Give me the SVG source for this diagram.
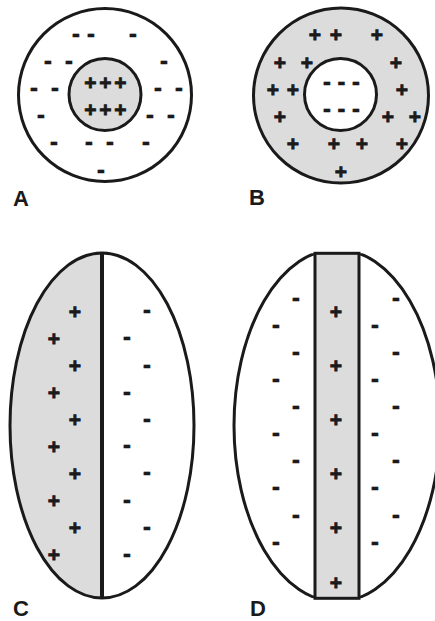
<svg xmlns="http://www.w3.org/2000/svg" width="435" height="621" viewBox="0 0 435 621">
<style>
.o{stroke:#1a1a1a;stroke-width:3;fill:none}
.g{fill:#dcdcdc}
.w{fill:#ffffff}
.p,.m{font-family:"Liberation Sans",Arial,sans-serif;font-weight:bold;fill:#1a1a1a;text-anchor:middle}
.p{font-size:21px;stroke:#1a1a1a;stroke-width:0.8}
.m{font-size:25px;stroke:#1a1a1a;stroke-width:0.3}
.l{font-family:"Liberation Sans",Arial,sans-serif;font-weight:bold;font-size:22px;fill:#1a1a1a}
</style>
<defs>
<clipPath id="clipD"><rect x="200" y="253.3" width="240" height="345"/></clipPath>
</defs>
<rect width="435" height="621" fill="#ffffff"/>
<g id="panelA">
<circle class="o w" cx="105" cy="95" r="86.5"/>
<circle class="o g" cx="105" cy="94.5" r="36"/>
<g class="m">
<text x="76" y="42">-</text><text x="91" y="42">-</text><text x="133" y="42">-</text>
<text x="48" y="69">-</text><text x="69" y="69">-</text><text x="164" y="69">-</text>
<text x="34" y="96">-</text><text x="55" y="96">-</text><text x="158" y="96">-</text><text x="179" y="96">-</text>
<text x="41" y="123">-</text><text x="150" y="123">-</text><text x="171" y="123">-</text>
<text x="54" y="150">-</text><text x="89" y="150">-</text><text x="110" y="150">-</text><text x="146" y="150">-</text>
<text x="101" y="178">-</text>
</g>
<g class="p">
<text x="90.5" y="89.5">+</text><text x="105.5" y="89.5">+</text><text x="120.5" y="89.5">+</text>
<text x="90.5" y="116.5">+</text><text x="105.5" y="116.5">+</text><text x="120.5" y="116.5">+</text>
</g>
<text class="l" x="13" y="206">A</text>
</g>
<g id="panelB">
<circle class="o g" cx="341" cy="95.5" r="87.5"/>
<circle class="o w" cx="340.5" cy="94.5" r="36"/>
<g class="m">
<text x="327" y="90">-</text><text x="341.5" y="90">-</text><text x="356" y="90">-</text>
<text x="327" y="117">-</text><text x="341.5" y="117">-</text><text x="356" y="117">-</text>
</g>
<g class="p">
<text x="315" y="41.5">+</text><text x="336" y="41.5">+</text><text x="377" y="41.5">+</text>
<text x="280" y="69.5">+</text><text x="307" y="69.5">+</text><text x="396" y="69.5">+</text>
<text x="273" y="96.5">+</text><text x="293" y="96.5">+</text><text x="402" y="96.5">+</text>
<text x="280" y="123.5">+</text><text x="388" y="123.5">+</text><text x="415" y="123.5">+</text>
<text x="293" y="150.5">+</text><text x="334" y="150.5">+</text><text x="362" y="150.5">+</text><text x="402" y="150.5">+</text>
<text x="341" y="178.5">+</text>
</g>
<text class="l" x="249" y="205">B</text>
</g>
<g id="panelC">
<path class="g" d="M102,253 A92,172.5 0 0 0 102,598 Z"/>
<ellipse class="o" cx="102" cy="425.5" rx="92" ry="172.5"/>
<line x1="102" y1="253" x2="102" y2="598" stroke="#1a1a1a" stroke-width="4"/>
<g class="p">
<text x="75" y="318.5">+</text><text x="54" y="345.5">+</text><text x="75" y="372.5">+</text><text x="54" y="399.5">+</text><text x="75" y="426.5">+</text>
<text x="54" y="453.5">+</text><text x="75" y="480.5">+</text><text x="54" y="507.5">+</text><text x="75" y="534.5">+</text><text x="54" y="561.5">+</text>
</g>
<g class="m">
<text x="147" y="318">-</text><text x="127" y="345">-</text><text x="147" y="373">-</text><text x="127" y="400">-</text><text x="147" y="427">-</text>
<text x="127" y="453">-</text><text x="147" y="480">-</text><text x="127" y="508">-</text><text x="147" y="535">-</text><text x="127" y="562">-</text>
</g>
<text class="l" x="13" y="616">C</text>
</g>
<g id="panelD">
<ellipse class="o w" cx="337" cy="425.5" rx="103" ry="176.3" clip-path="url(#clipD)"/>
<rect class="o g" x="315" y="253.3" width="44" height="345"/>
<g class="p">
<text x="336" y="318.5">+</text><text x="336" y="372.5">+</text><text x="336" y="426.5">+</text>
<text x="336" y="480.5">+</text><text x="336" y="534.5">+</text><text x="336" y="589.5">+</text>
</g>
<g class="m">
<text x="296" y="306">-</text><text x="276" y="333">-</text><text x="296" y="360">-</text><text x="276" y="387">-</text><text x="296" y="414">-</text>
<text x="276" y="441">-</text><text x="296" y="468">-</text><text x="276" y="495">-</text><text x="296" y="523">-</text><text x="276" y="550">-</text>
<text x="396" y="306">-</text><text x="375" y="333">-</text><text x="396" y="360">-</text><text x="375" y="387">-</text><text x="396" y="414">-</text>
<text x="375" y="441">-</text><text x="396" y="468">-</text><text x="375" y="495">-</text><text x="396" y="523">-</text><text x="375" y="550">-</text>
</g>
<text class="l" x="250" y="616">D</text>
</g>
</svg>
